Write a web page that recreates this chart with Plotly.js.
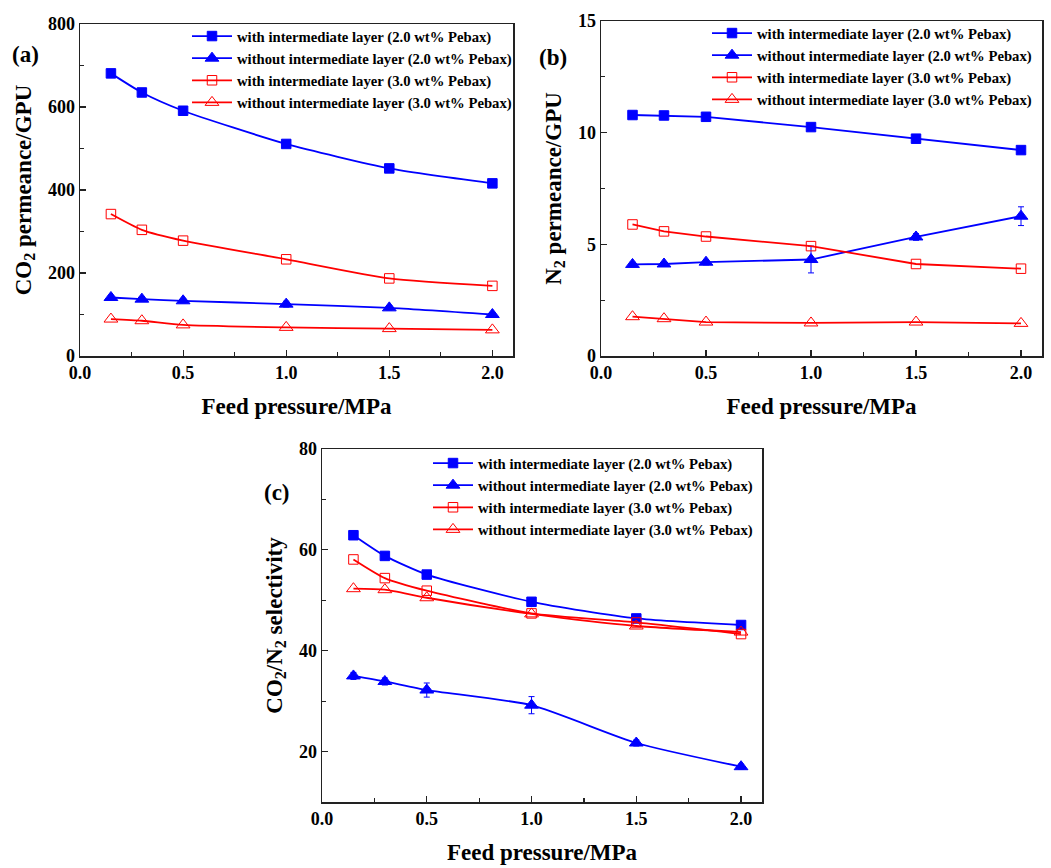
<!DOCTYPE html>
<html><head><meta charset="utf-8">
<script src="https://cdn.plot.ly/plotly-3.0.1.min.js"></script>
<style>html,body{margin:0;padding:0;background:#fff}</style>
</head><body><div id="chart" style="width:1051px;height:868px"></div>
<script>
// ---- data ----
const pressure = [0.15, 0.3, 0.5, 1.0, 1.5, 2.0];
const seriesNames = [
  "with intermediate layer (2.0 wt% Pebax)",
  "without intermediate layer (2.0 wt% Pebax)",
  "with intermediate layer (3.0 wt% Pebax)",
  "without intermediate layer (3.0 wt% Pebax)"
];
// (a) CO2 permeance / GPU
const co2_with20 = [681, 635, 591, 511, 452, 416];
const co2_without20 = [141, 137, 133, 125, 116, 100];
const co2_without20_err = [5, 5, 5, 7, 5, 5];
const co2_with30 = [342, 304, 278, 233, 187, 169];
const co2_without30 = [89, 85, 75, 69, 66, 63];
// (b) N2 permeance / GPU
const n2_with20 = [10.79, 10.77, 10.71, 10.25, 9.73, 9.22];
const n2_without20 = [4.10, 4.12, 4.20, 4.32, 5.33, 6.26];
const n2_without20_err = [0.1, 0.1, 0.12, 0.6, 0.15, 0.42];
const n2_with30 = [5.89, 5.58, 5.35, 4.92, 4.12, 3.91];
const n2_without30 = [1.76, 1.67, 1.52, 1.48, 1.52, 1.46];
// (c) CO2/N2 selectivity
const sel_with20 = [62.9, 58.8, 55.1, 49.7, 46.4, 45.1];
const sel_without20 = [35.0, 33.9, 32.2, 29.2, 21.7, 17.0];
const sel_without20_err = [0.7, 0.7, 1.4, 1.7, 0.6, 0.5];
const sel_with30 = [58.1, 54.4, 51.9, 47.4, 45.6, 43.3];
const sel_without30 = [52.3, 52.1, 50.5, 47.3, 44.9, 43.7];

const panelLabels = ["(a)", "(b)", "(c)"];
const yTitles = ["CO<sub>2</sub> permeance/GPU", "N<sub>2</sub> permeance/GPU", "CO<sub>2</sub>/N<sub>2</sub> selectivity"];
const xTitle = "Feed pressure/MPa";

// ---- layout helpers ----
const W = 1051, H = 868;
const xd = (l, r) => [l / W, r / W];
const yd = (t, b) => [1 - b / H, 1 - t / H];
const BLUE = "#0000ff", RED = "#ff0000";
const FONT = "Liberation Serif";

const styles = [
  {color: BLUE, symbol: "square", fill: BLUE},
  {color: BLUE, symbol: "triangle-up", fill: BLUE},
  {color: RED, symbol: "square-open", fill: RED},
  {color: RED, symbol: "triangle-up-open", fill: RED}
];

function mk(y, i, xa, ya, leg, err, shape) {
  const s = styles[i];
  const t = {
    x: pressure, y: y, type: "scatter", mode: "lines+markers",
    name: seriesNames[i], xaxis: xa, yaxis: ya, legend: leg,
    line: {color: s.color, width: 1.8, shape: shape, smoothing: 0.6},
    marker: {symbol: s.symbol, size: i % 2 === 1 ? 12 : 9.5, color: s.fill,
             line: {color: s.color, width: 1}}
  };
  if (err) t.error_y = {type: "data", array: err, visible: true, color: BLUE, thickness: 1, width: 3};
  return t;
}

const data = [
  mk(co2_with20, 0, "x", "y", "legend", null, "spline"),
  mk(co2_without20, 1, "x", "y", "legend", co2_without20_err, "spline"),
  mk(co2_with30, 2, "x", "y", "legend", null, "spline"),
  mk(co2_without30, 3, "x", "y", "legend", null, "spline"),
  mk(n2_with20, 0, "x2", "y2", "legend2", null, "linear"),
  mk(n2_without20, 1, "x2", "y2", "legend2", n2_without20_err, "linear"),
  mk(n2_with30, 2, "x2", "y2", "legend2", null, "linear"),
  mk(n2_without30, 3, "x2", "y2", "legend2", null, "linear"),
  mk(sel_with20, 0, "x3", "y3", "legend3", null, "spline"),
  mk(sel_without20, 1, "x3", "y3", "legend3", sel_without20_err, "spline"),
  mk(sel_with30, 2, "x3", "y3", "legend3", null, "spline"),
  mk(sel_without30, 3, "x3", "y3", "legend3", null, "spline")
];

function xaxis(dom, anchor) {
  return {
    domain: dom, anchor: anchor, range: [0, 2.1], dtick: 0.5, tick0: 0, tickformat: ".1f",
    showgrid: false, zeroline: false, showline: true, mirror: true,
    linecolor: "#222", linewidth: 1.5, ticks: "inside", ticklen: 6, tickwidth: 1.2, tickcolor: "#222",
    minor: {dtick: 0.25, ticks: "inside", ticklen: 4, tickcolor: "#222", showgrid: false},
    tickfont: {family: FONT, size: 18, color: "#000", weight: "bold"},
    title: {text: "<b>" + xTitle + "</b>", font: {family: FONT, size: 23, color: "#000"}, standoff: 16}
  };
}
function yaxis(dom, anchor, range, dtick, minor, title) {
  return {
    domain: dom, anchor: anchor, range: range, dtick: dtick, tick0: 0,
    showgrid: false, zeroline: false, showline: true, mirror: true,
    linecolor: "#222", linewidth: 1.5, ticks: "inside", ticklen: 6, tickwidth: 1.2, tickcolor: "#222",
    minor: {dtick: minor, ticks: "inside", ticklen: 4, tickcolor: "#222", showgrid: false},
    tickfont: {family: FONT, size: 18, color: "#000", weight: "bold"},
    title: {text: "<b>" + title + "</b>", font: {family: FONT, size: 23, color: "#000"}, standoff: 10}
  };
}
function legend(xpx, ypx) {
  return {
    x: xpx / W, y: 1 - ypx / H, xanchor: "left", yanchor: "top",
    bgcolor: "rgba(0,0,0,0)", borderwidth: 0, traceorder: "normal", itemwidth: 40,
    font: {family: FONT, size: 14.7, color: "#000", weight: "bold"}
  };
}

const layout = {
  width: W, height: H, margin: {l: 0, r: 0, t: 0, b: 0},
  paper_bgcolor: "#fff", plot_bgcolor: "#fff", showlegend: true,
  xaxis: xaxis(xd(80, 513), "y"),
  yaxis: yaxis(yd(24, 356), "x", [0, 800], 200, 100, yTitles[0]),
  xaxis2: xaxis(xd(601, 1042), "y2"),
  yaxis2: yaxis(yd(21, 356), "x2", [0, 15], 5, 2.5, yTitles[1]),
  xaxis3: xaxis(xd(322, 762), "y3"),
  yaxis3: yaxis(yd(449, 802), "x3", [10, 80], 20, 10, yTitles[2]),
  legend: legend(187, 20),
  legend2: legend(707, 17),
  legend3: legend(428, 447),
  annotations: [
    {text: "<b>" + panelLabels[0] + "</b>", xref: "paper", yref: "paper", x: 10 / W, y: 1 - 55 / H, xanchor: "left", yanchor: "middle", showarrow: false, font: {family: FONT, size: 23, color: "#000"}},
    {text: "<b>" + panelLabels[1] + "</b>", xref: "paper", yref: "paper", x: 537 / W, y: 1 - 57 / H, xanchor: "left", yanchor: "middle", showarrow: false, font: {family: FONT, size: 23, color: "#000"}},
    {text: "<b>" + panelLabels[2] + "</b>", xref: "paper", yref: "paper", x: 262 / W, y: 1 - 492 / H, xanchor: "left", yanchor: "middle", showarrow: false, font: {family: FONT, size: 23, color: "#000"}}
  ]
};

Plotly.newPlot("chart", data, layout, {displayModeBar: false, staticPlot: true});
</script>
</body></html>
